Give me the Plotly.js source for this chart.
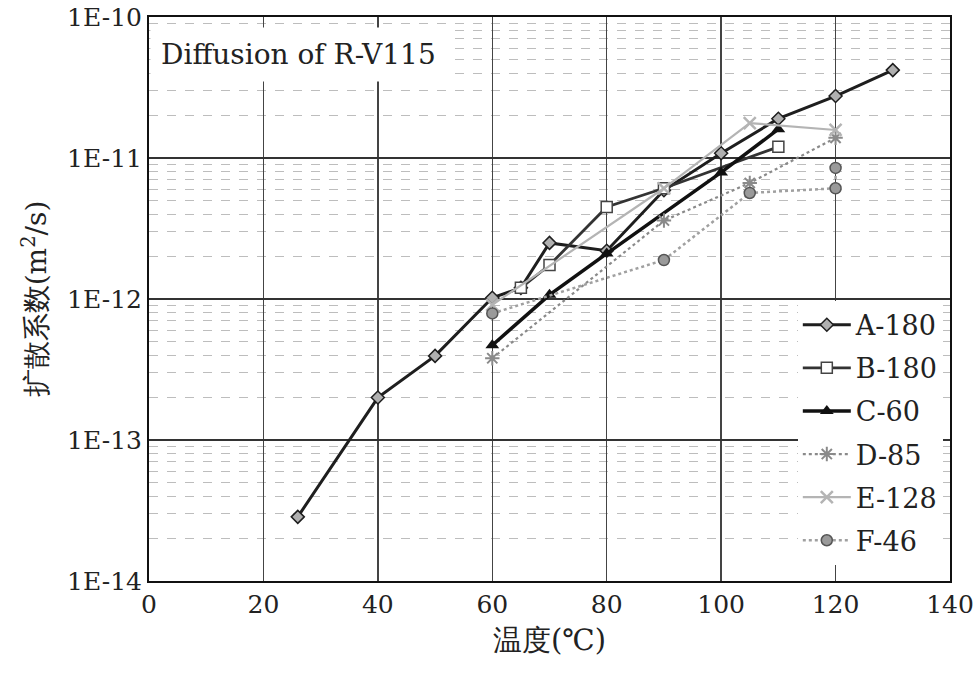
<!DOCTYPE html>
<html>
<head>
<meta charset="utf-8">
<script src="https://cdn.plot.ly/plotly-3.0.1.min.js"></script>
<style>html,body{margin:0;padding:0;background:#fff;}#chart{width:977px;height:678px;}</style>
</head>
<body>
<div id="chart"></div>
<script>
// Temperatures (°C) and diffusion coefficients (m²/s)
const xA = [26, 40, 50, 60, 65, 70, 80, 90, 100, 110, 120, 130];
const yA = [2.85e-14, 2.0e-13, 3.95e-13, 1.02e-12, 1.2e-12, 2.5e-12, 2.2e-12, 5.9e-12, 1.08e-11, 1.9e-11, 2.75e-11, 4.2e-11];

const xB = [65, 70, 80, 90, 110];
const yB = [1.2e-12, 1.74e-12, 4.5e-12, 6.1e-12, 1.2e-11];

const xC = [60, 70, 80, 100, 110];
const yC = [4.7e-13, 1.07e-12, 2.1e-12, 7.9e-12, 1.6e-11];

const xD = [60, 90, 105, 120];
const yD = [3.8e-13, 3.6e-12, 6.65e-12, 1.39e-11];

const xE = [60, 90, 105, 120];
const yE = [9.1e-13, 6.1e-12, 1.77e-11, 1.58e-11];

const xF = [60, 90, 105, 120, 120];
const yF = [7.9e-13, 1.89e-12, 5.65e-12, 6.1e-12, 8.5e-12];

const seriesNames = ["A-180", "B-180", "C-60", "D-85", "E-128", "F-46"];

const yTickVals = [1e-14, 1e-13, 1e-12, 1e-11, 1e-10];
const yTickText = ["1E-14", "1E-13", "1E-12", "1E-11", "1E-10"];
const xTickVals = [0, 20, 40, 60, 80, 100, 120, 140];

const serif = "DejaVu Serif";

const traces = [
  {x: xA, y: yA, name: seriesNames[0], legendgroup: "a", mode: "lines+markers",
   line: {color: "#1e1e1e", width: 3},
   marker: {symbol: "diamond", size: 10, color: "#b0b0b0", line: {color: "#1e1e1e", width: 1.5}}},
  {x: xB, y: yB, name: seriesNames[1], legendgroup: "b", mode: "lines+markers",
   line: {color: "#333", width: 2.8},
   marker: {symbol: "square", size: 11, color: "#fff", line: {color: "#444", width: 1.5}}},
  {x: xC, y: yC, name: seriesNames[2], legendgroup: "c", mode: "lines+markers",
   line: {color: "#111", width: 3.5},
   marker: {symbol: "triangle-up", size: 12, color: "#111"}},
  {x: xD, y: yD, name: seriesNames[3], legendgroup: "d", mode: "lines+markers",
   line: {color: "#8a8a8a", width: 2.2, dash: "dot"},
   marker: {symbol: "asterisk-open", size: 12, line: {color: "#555", width: 2}}},
  {x: xE, y: yE, name: seriesNames[4], legendgroup: "e", mode: "lines+markers",
   line: {color: "#b4b4b4", width: 2.2},
   marker: {symbol: "x-thin-open", size: 12, line: {color: "#555", width: 2.5}}},
  {x: xF, y: yF, name: seriesNames[5], legendgroup: "f", mode: "lines+markers",
   line: {color: "#a0a0a0", width: 2.5, dash: "dot"},
   marker: {symbol: "circle", size: 11, color: "#9a9a9a", line: {color: "#555", width: 1.5}}}
];

const layout = {
  width: 977, height: 678,
  paper_bgcolor: "#fff", plot_bgcolor: "#fff",
  margin: {l: 149, r: 27, t: 17, b: 97},
  font: {family: serif, size: 25, color: "#222"},
  showlegend: true,
  legend: {
    x: 0.81, xanchor: "left", y: 0.497, yanchor: "top",
    bgcolor: "#fff", borderwidth: 0, itemwidth: 48,
    font: {family: serif, size: 27, color: "#222"},
    tracegroupgap: 5, traceorder: "grouped"
  },
  xaxis: {
    range: [0, 140], tickvals: xTickVals, ticks: "",
    showgrid: true, gridcolor: "#444", gridwidth: 1.3,
    showline: true, mirror: true, linecolor: "#111", linewidth: 2,
    zeroline: false,
    tickfont: {family: serif, size: 25, color: "#222"},
    title: {text: "温度(℃)", font: {family: serif, size: 29, color: "#222"}, standoff: 12}
  },
  yaxis: {
    type: "log", range: [-14, -10],
    tickvals: yTickVals, ticktext: yTickText, ticks: "",
    showgrid: true, gridcolor: "#333", gridwidth: 1.5,
    showline: true, mirror: true, linecolor: "#111", linewidth: 2,
    zeroline: false,
    tickfont: {family: serif, size: 25, color: "#222"},
    minor: {dtick: "D1", showgrid: true, gridcolor: "#bdbdbd", griddash: "dash", gridwidth: 1, ticks: ""},
    title: {text: "扩散系数(m<sup>2</sup>/s)", font: {family: serif, size: 28, color: "#222"}, standoff: 12}
  },
  annotations: [{
    text: "Diffusion of R-V115", xref: "paper", yref: "paper",
    x: 0, y: 1, xanchor: "left", yanchor: "top", showarrow: false,
    yshift: -10, xshift: 1, bgcolor: "#fff", borderpad: 10,
    font: {family: serif, size: 28, color: "#222"}
  }]
};

Plotly.newPlot("chart", traces, layout, {displayModeBar: false, staticPlot: true});
</script>
</body>
</html>
